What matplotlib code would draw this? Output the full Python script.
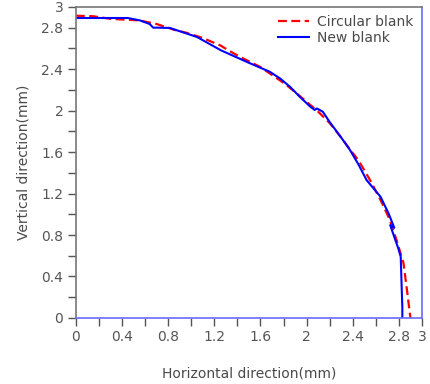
import numpy as np
import matplotlib.pyplot as plt
from matplotlib.ticker import MultipleLocator, FixedLocator

# Circular blank (red dashed)
x_circ = [0.0, 0.15, 0.3, 0.38, 0.55, 0.7, 0.85, 0.96, 1.1, 1.25, 1.34, 1.42, 1.6,
          1.81, 1.91, 2.0, 2.1, 2.2, 2.3, 2.38, 2.45, 2.55, 2.64, 2.72, 2.78, 2.84,
          2.87, 2.9]
y_circ = [2.915, 2.91, 2.885, 2.88, 2.87, 2.835, 2.78, 2.75, 2.70, 2.63, 2.57, 2.52,
          2.42, 2.26, 2.17, 2.085, 1.99, 1.88, 1.74, 1.62, 1.52, 1.33, 1.14, 0.95,
          0.75, 0.53, 0.27, 0.0]

# New blank (blue solid)
x_new = [0.0, 0.45, 0.555, 0.64, 0.67, 0.7, 0.815, 1.05, 1.26, 1.51, 1.68, 1.77,
         1.856, 1.94, 2.03, 2.07, 2.09, 2.14, 2.2, 2.3, 2.376, 2.45, 2.52, 2.64,
         2.71, 2.76, 2.725, 2.745, 2.795, 2.816, 2.82, 2.825, 2.83, 2.83]
y_new = [2.893, 2.893, 2.87, 2.835, 2.80, 2.80, 2.797, 2.71, 2.58, 2.456, 2.375,
         2.31, 2.23, 2.134, 2.04, 2.006, 2.02, 1.99, 1.89, 1.74, 1.62, 1.48, 1.33,
         1.17, 1.01, 0.87, 0.895, 0.83, 0.67, 0.59, 0.45, 0.27, 0.1, 0.0]

tick_labels = [0, 0.4, 0.8, 1.2, 1.6, 2, 2.4, 2.8, 3]

plt.rcParams.update({
    "font.family": "DejaVu Sans",
    "font.size": 10,
    "text.color": "#4a4a4a",
    "axes.labelcolor": "#4a4a4a",
    "xtick.color": "#555555",
    "ytick.color": "#555555",
})

fig = plt.figure(figsize=(4.31, 3.84), dpi=100)
ax = fig.add_axes([0.176, 0.172, 0.803, 0.810])

ax.plot(x_circ, y_circ, linestyle=(0, (4, 2)), linewidth=1.6, color='#ff0000',
        label='Circular blank')
ax.plot(x_new, y_new, linestyle='solid', linewidth=1.5, color='#0000ff',
        label='New blank')

ax.set_xlim(0, 3)
ax.set_ylim(0, 3)

ax.xaxis.set_major_locator(FixedLocator(tick_labels))
ax.yaxis.set_major_locator(FixedLocator(tick_labels))
ax.xaxis.set_minor_locator(MultipleLocator(0.2))
ax.yaxis.set_minor_locator(MultipleLocator(0.2))
ax.set_xticklabels([str(t) for t in tick_labels])
ax.set_yticklabels([str(t) for t in tick_labels])
ax.tick_params(which='both', direction='out', length=6, width=1)
ax.tick_params(which='major', pad=3)

ax.spines['left'].set_color('#777777')
ax.spines['top'].set_color('#777777')
ax.spines['bottom'].set_color('#6a6aff')
ax.spines['right'].set_color('#6a6aff')
for s in ax.spines.values():
    s.set_linewidth(1.2)

ax.set_xlabel('Horizontal direction(mm)', labelpad=16)
ax.set_ylabel('Vertical direction(mm)', labelpad=8)

ax.legend(loc='upper right', frameon=False, handlelength=2.2, borderaxespad=0.2,
          labelspacing=0.1, handletextpad=0.6)

plt.savefig('out.png', dpi=100)
